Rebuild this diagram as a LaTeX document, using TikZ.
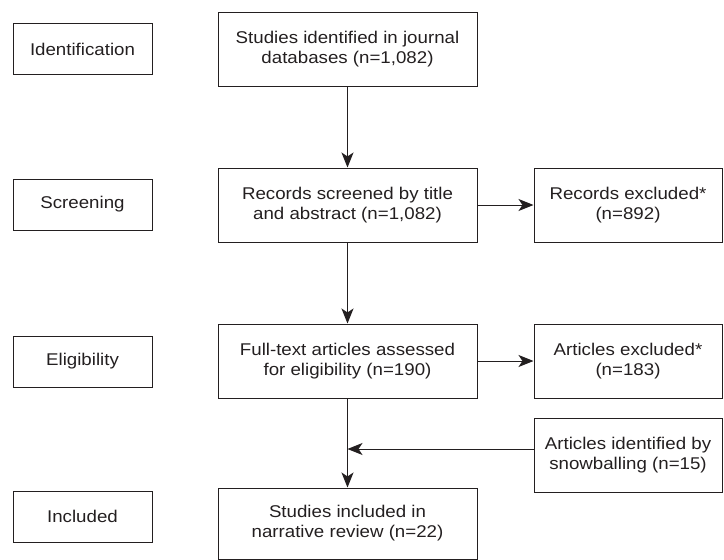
\documentclass[tikz,border=0pt]{standalone}
\usepackage{fontspec}
\setmainfont{Liberation Sans}[FakeStretch=1.1]
\usetikzlibrary{arrows.meta}
\definecolor{ink}{HTML}{231F20}
\begin{document}
\begin{tikzpicture}[x=1pt,y=-1pt,
  every node/.style={text=ink},
  stage/.style={draw=ink,line width=1pt,minimum width=139pt,minimum height=51pt,inner sep=0pt,
    font=\fontsize{17}{20}\selectfont,align=center},
  mainbox/.style={draw=ink,line width=1pt,minimum width=259pt,minimum height=74pt,inner sep=0pt,
    font=\fontsize{17}{20}\selectfont,align=center},
  sidebox/.style={draw=ink,line width=1pt,minimum width=188pt,minimum height=74pt,inner sep=0pt,
    font=\fontsize{17}{20}\selectfont,align=center},
  conn/.style={draw=ink,line width=1pt},
  arr/.style={conn,-{Stealth[length=15pt,width=12pt,inset=4pt]}}]
\useasboundingbox (0,0) rectangle (724,560);
\node[stage] (id) at (82.5,49) {Identification};
\node[stage] (scr) at (82.5,204.5) {Screening};
\node[stage] (eli) at (82.5,361.5) {Eligibility};
\node[stage] (inc) at (82.5,516.5) {Included};
\node[mainbox] (b1) at (347.5,49.5) {Studies identified in journal\\databases (n=1,082)};
\node[mainbox] (b2) at (347.5,205) {Records screened by title\\and abstract (n=1,082)};
\node[mainbox] (b3) at (347.5,361) {Full-text articles assessed\\for eligibility (n=190)};
\node[mainbox,minimum height=71pt] (b4) at (347.5,523.5) {Studies included in\\narrative review (n=22)};
\node[sidebox] (r1) at (628,205) {Records excluded*\\(n=892)};
\node[sidebox] (r2) at (628,361) {Articles excluded*\\(n=183)};
\node[sidebox] (r3) at (628,455) {Articles identified by\\snowballing (n=15)};
\coordinate (j) at (347.5,449);
\draw[arr] (b1.south) -- (b2.north);
\draw[arr] (b2.south) -- (b3.north);
\draw[arr] (b3.south) -- (b4.north);
\draw[arr] (b2.east) -- (r1.west);
\draw[arr] (b3.east) -- (r2.west);
\draw[arr] (r3.west |- j) -- (j);
\end{tikzpicture}
\end{document}
